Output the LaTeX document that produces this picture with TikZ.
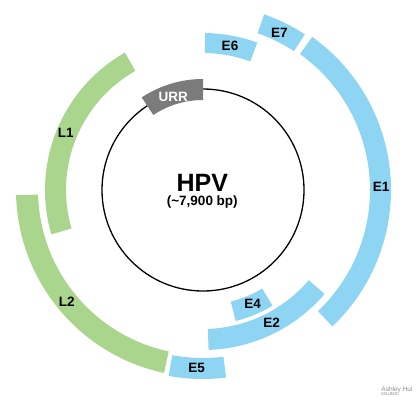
\documentclass[tikz,border=0pt]{standalone}
\usepackage{fontspec}
\setmainfont{Liberation Sans}
\usepackage{tikz}

\definecolor{earlyblue}{RGB}{142,212,243}
\definecolor{lategreen}{RGB}{169,213,140}
\definecolor{urrgray}{RGB}{123,123,123}

% band of the genome map: style, start angle, end angle, inner r, outer r
\newcommand{\geneband}[5]{%
  \fill[#1] (#2:#4) arc[start angle=#2,end angle=#3,radius=#4]
    -- (#3:#5) arc[start angle=#3,end angle=#2,radius=#5] -- cycle;}

\begin{document}
\begin{tikzpicture}[x=1pt,y=1pt]
      \tikzstyle{lbl}=[font=\fontsize{13.5}{14}\selectfont\bfseries,inner sep=0pt];
      \tikzstyle{early}=[fill=earlyblue];
      \tikzstyle{late}=[fill=lategreen];

      \useasboundingbox (-203,-217) rectangle (216,190);

      % genome
      \draw[line width=1.3pt] (0,0) circle[radius=101];
      \geneband{fill=urrgray}{90}{123.5}{90}{111}

      % early genes
      \geneband{early}{54.5}{-46.5}{167}{188}
      \geneband{early}{56.8}{70.8}{166}{186}
      \geneband{early}{69.8}{89.2}{137}{157}
      \geneband{early}{259.5}{277}{168}{189}
      \geneband{early}{272}{319.5}{139}{160}
      \geneband{early}{284}{301}{115}{135}

      % late genes
      \geneband{late}{119.6}{196.3}{137}{158}
      \geneband{late}{181.6}{258}{165}{187}

      \node[lbl](E1) at (178,3.3) {E1};
      \node[lbl](E2) at (68.7,-132.7) {E2};
      \node[lbl](E4) at (49.7,-114.3) {E4};
      \node[lbl](E5) at (-6.3,-178.3) {E5};
      \node[lbl](E6) at (27,144.3) {E6};
      \node[lbl](E7) at (76.3,157.3) {E7};
      \node[lbl](L1) at (-137.3,56.7) {L1};
      \node[lbl](L2) at (-136.3,-111.7) {L2};
      \node[lbl,white](URR) at (-29.7,93.3) {URR};

      \node[font=\fontsize{25}{27}\selectfont\bfseries,inner sep=0pt](HPV) at (-0.7,7.3) {HPV};
      \node[font=\fontsize{13.5}{14}\selectfont\bfseries,inner sep=0pt](size) at (-0.7,-12.3) {(\textasciitilde7,900 bp)};

      \node[font=\fontsize{6.5}{6}\selectfont,text=black!45,align=left,inner sep=0pt](sig) at (194,-201) {Ashley Hui\\[-1.5pt]{\fontsize{4.2}{4.5}\selectfont MScBMC}};

    \end{tikzpicture}
\end{document}
